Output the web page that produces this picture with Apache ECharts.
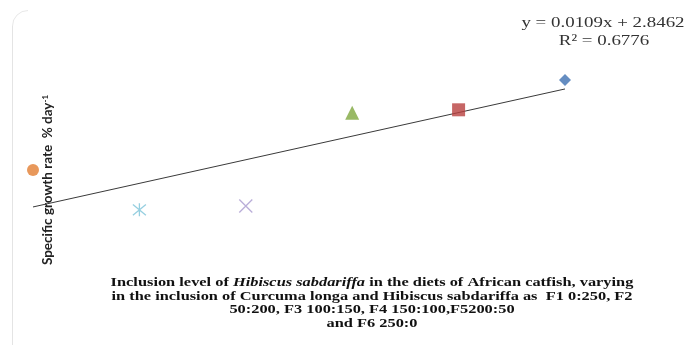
<!DOCTYPE html>
<html>
<head>
<meta charset="utf-8">
<script src="https://cdn.jsdelivr.net/npm/echarts@6/dist/echarts.min.js"></script>
<style>
html,body{margin:0;padding:0;background:#fff;}
#chart{width:686px;height:345px;}
</style>
</head>
<body>
<div id="chart"></div>
<script>
// ---- data ----
const dietNames = ['F1', 'F2', 'F3', 'F4', 'F5', 'F6'];
const inclusionLevel = [0, 50, 100, 150, 200, 250];
const growthRate = [3.70, 2.78, 2.87, 5.02, 5.09, 5.78];
const trendSlope = 0.0109;
const trendIntercept = 2.8462;
const rSquared = 0.6776;
const yAxisTitle = 'Specific growth rate  % day';
const captionLines = [
  'Inclusion level of {i|Hibiscus sabdariffa} in the diets of African catfish, varying',
  'in the inclusion of Curcuma longa and Hibiscus sabdariffa as  F1 0:250, F2',
  '50:200, F3 100:150, F4 150:100,F5200:50',
  'and F6 250:0'
];

// ---- styles ----
const markerColors = ['#E27E32', '#7CC3D8', '#A99AD0', '#7FA83E', '#B8403E', '#3F70B2'];
const starPath = 'path://M0,0L10,10M10,0L0,10M5,-1L5,11';
const crossPath = 'path://M0,0L10,10M10,0L0,10';
const markerSymbols = ['circle', starPath, crossPath, 'triangle', 'rect', 'diamond'];
const markerSizes = [12, 13, 13, 14, 13, 12];

const chart = echarts.init(document.getElementById('chart'));

const trendXs = [inclusionLevel[0], inclusionLevel[inclusionLevel.length - 1]];
const series = [{
  type: 'line',
  data: trendXs.map(x => [x, trendSlope * x + trendIntercept]),
  symbol: 'none',
  lineStyle: { color: '#3a3a3a', width: 1 },
  z: 1,
  silent: true
}];
inclusionLevel.forEach((x, i) => {
  const outline = i === 1 || i === 2;
  series.push({
    type: 'scatter',
    name: dietNames[i],
    data: [[x, growthRate[i]]],
    symbol: markerSymbols[i],
    symbolSize: markerSizes[i],
    itemStyle: outline
      ? { color: 'none', borderColor: markerColors[i], borderWidth: 1.3 }
      : { color: markerColors[i] },
    z: 2
  });
});

const capFont = {
  fontFamily: 'Liberation Serif',
  fontWeight: 'bold',
  fontSize: 12.5
};
const graphics = [
  {
    type: 'line',
    shape: { x1: 12.5, y1: 26, x2: 12.5, y2: 345 },
    style: { stroke: '#e4e4e4', lineWidth: 1 },
    silent: true, z: 0
  },
  {
    type: 'arc',
    shape: { cx: 28, cy: 26, r: 15.5, startAngle: Math.PI, endAngle: Math.PI * 1.5, clockwise: true },
    style: { fill: 'none', stroke: '#e8e8e8', lineWidth: 1 },
    silent: true, z: 0
  },
  {
    type: 'text',
    x: 48, y: 180,
    rotation: Math.PI / 2,
    style: {
      text: yAxisTitle + '{s|-1}',
      fontFamily: 'Lato',
      fontSize: 13.5,
      fontWeight: 'bold',
      fill: '#222',
      textAlign: 'center',
      textVerticalAlign: 'middle',
      rich: {
        s: { fontFamily: 'Lato', fontSize: 8, fontWeight: 'bold', fill: '#222', verticalAlign: 'top', padding: [0, 0, 6, 0] }
      }
    }
  },
  {
    type: 'text',
    x: 603, y: 23,
    scaleX: 1.22,
    style: {
      text: 'y = ' + trendSlope.toFixed(4) + 'x + ' + trendIntercept.toFixed(4),
      fontFamily: 'Liberation Serif', fontSize: 15.5, fill: '#333',
      textAlign: 'center', textVerticalAlign: 'middle'
    }
  },
  {
    type: 'text',
    x: 604, y: 41,
    scaleX: 1.22,
    style: {
      text: 'R² = ' + rSquared.toFixed(4),
      fontFamily: 'Liberation Serif', fontSize: 15.5, fill: '#333',
      textAlign: 'center', textVerticalAlign: 'middle'
    }
  }
];
const capY = [283, 296.5, 310, 323.5];
captionLines.forEach((line, k) => {
  graphics.push({
    type: 'text',
    x: 372, y: capY[k],
    scaleX: 1.31,
    style: Object.assign({
      text: line,
      fill: '#111',
      textAlign: 'center',
      textVerticalAlign: 'middle',
      rich: {
        i: Object.assign({}, capFont, { fontStyle: 'italic', fill: '#111' })
      }
    }, capFont)
  });
});

chart.setOption({
  animation: false,
  backgroundColor: '#ffffff',
  grid: { left: 33, right: 121, top: 70.4, bottom: 101.4 },
  xAxis: {
    type: 'value', min: 0, max: 250,
    axisLine: { show: false }, axisTick: { show: false },
    axisLabel: { show: false }, splitLine: { show: false }
  },
  yAxis: {
    type: 'value', min: 2, max: 6,
    axisLine: { show: false }, axisTick: { show: false },
    axisLabel: { show: false }, splitLine: { show: false }
  },
  series: series,
  graphic: graphics
});
</script>
</body>
</html>
